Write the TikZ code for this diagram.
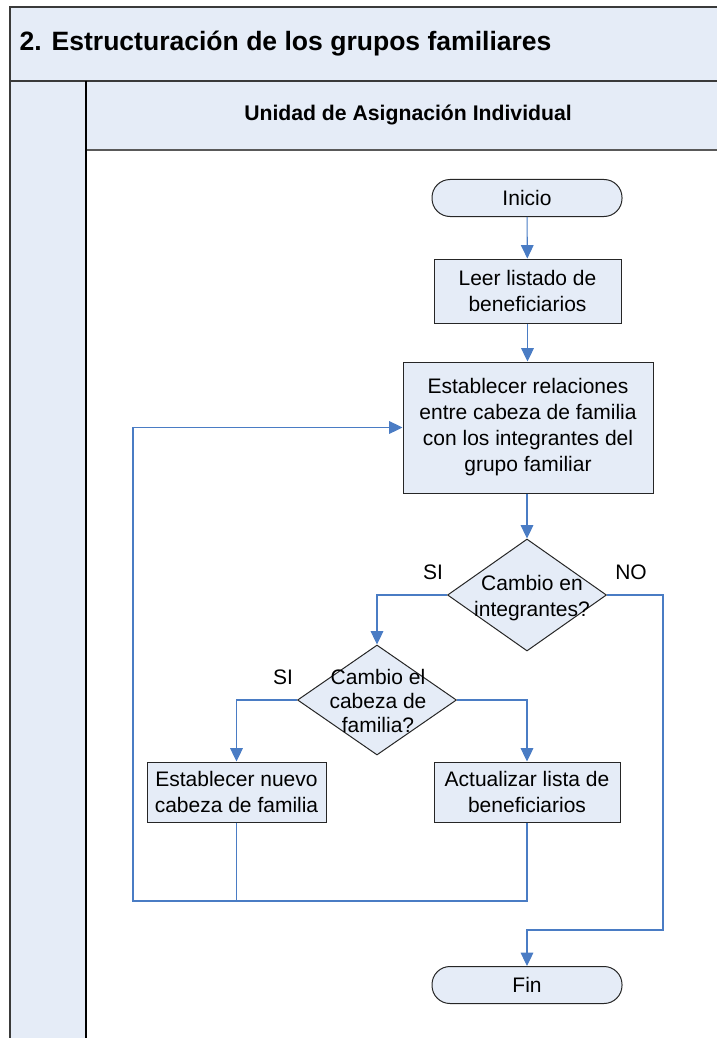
\documentclass[tikz,border=0pt]{standalone}
\usepackage{fontspec}
\setmainfont{Liberation Sans}
\usetikzlibrary{shapes.geometric,arrows.meta}
\definecolor{paneFill}{HTML}{E5ECF7}
\definecolor{flowBlue}{HTML}{4A7CC4}
\definecolor{frameGray}{HTML}{3A3A3A}
\begin{document}
\begin{tikzpicture}[x=0.75pt,y=-0.75pt,
  every node/.style={font=\fontsize{15.75pt}{19.5pt}\selectfont, text=black},
  boxstyle/.style={draw=black!85, fill=paneFill, line width=0.75pt, align=center, inner sep=0pt},
  stepbox/.style={boxstyle, rectangle},
  termbox/.style={boxstyle, rectangle, rounded corners=13.5pt, minimum width=142.5pt, minimum height=27.75pt},
  choice/.style={boxstyle, diamond, minimum width=119.25pt},
  flow/.style={draw=flowBlue, line width=0.8pt},
  flowarrow/.style={flow, -{Triangle[length=10pt,width=9.5pt]}},
  lbl/.style={font=\fontsize{15.75pt}{19.5pt}\selectfont}
]
\useasboundingbox (0,0) rectangle (717,1038);

% swimlane frame
\fill[paneFill] (10,7) rectangle (717,81);
\fill[paneFill] (86,81) rectangle (717,150);
\fill[paneFill] (10,81) rectangle (86,1038);
\draw[frameGray, line width=1.5pt] (10,1038) -- (10,7) -- (717,7);
\draw[frameGray, line width=1.6pt] (10,81) -- (717,81);
\draw[black!65, line width=1.5pt] (86,150) -- (717,150);
\draw[black, line width=0.9pt] (86,81) -- (86,1038);
\node[anchor=west, font=\bfseries\fontsize{19.9pt}{24pt}\selectfont] (title) at (15,44) {2. Estructuración de los grupos familiares};
\node[font=\bfseries\fontsize{15.9pt}{19pt}\selectfont] (lane) at (408,115) {Unidad de Asignación Individual};

% flow steps
\node[termbox] (inicio) at (527,198) {Inicio};
\node[stepbox, minimum width=140.25pt, minimum height=48pt] (leer) at (527.5,291) {Leer listado de\\beneficiarios};
\node[stepbox, minimum width=187.5pt, minimum height=98.25pt] (rel) at (528,427.5) {Establecer relaciones\\entre cabeza de familia\\con los integrantes del\\grupo familiar};
\node[choice, minimum height=84pt] (d1) at (527,595) {};
\node[align=center] (d1txt) at (532,598.5) {Cambio en\\integrantes?};
\node[choice, minimum height=82.5pt] (d2) at (377,700) {};
\node[align=center, font=\fontsize{15.75pt}{18pt}\selectfont] (d2txt) at (378,701) {Cambio el\\cabeza de\\familia?};
\node[stepbox, minimum width=134.25pt, minimum height=45pt] (nuevo) at (236.5,792) {Establecer nuevo\\cabeza de familia};
\node[stepbox, minimum width=139.5pt, minimum height=45pt] (act) at (527,792) {Actualizar lista de\\beneficiarios};
\node[termbox] (fin) at (527,985) {Fin};

% connectors
\draw[flowarrow] (inicio) -- (leer);
\draw[flowarrow] (leer) -- (rel.north -| leer);
\draw[flowarrow] (rel.south -| d1) -- (d1);
\draw[flowarrow] (d1.west) -| (d2.north);
\draw[flowarrow] (d2.west) -| (nuevo.north);
\draw[flowarrow] (d2.east) -| (act.north);
\coordinate (loopR) at (527,901);
\coordinate (loopL) at (133,901);
\coordinate (loopT) at (133,427.5);
\draw[flow] (nuevo.south) -- (nuevo.south |- loopR);
\draw[flowarrow] (act.south) -- (loopR) -- (loopL) -- (loopT) -- (rel.west);
\coordinate (noR) at (663,595);
\coordinate (noB) at (663,930);
\coordinate (noL) at (527,930);
\draw[flowarrow] (d1.east) -- (noR) -- (noB) -- (noL) -- (fin.north);

% branch labels
\node[lbl] (si1) at (433,572) {SI};
\node[lbl] (no1) at (631,572) {NO};
\node[lbl] (si2) at (283,677) {SI};
\end{tikzpicture}
\end{document}
